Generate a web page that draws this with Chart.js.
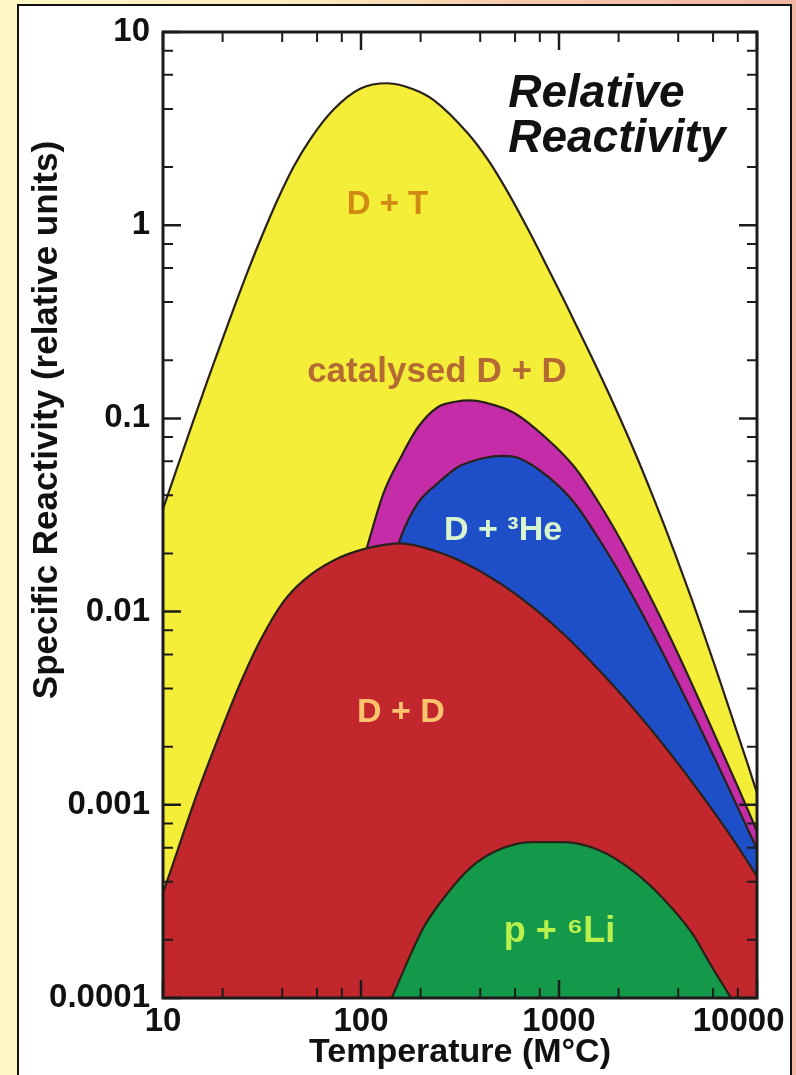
<!DOCTYPE html>
<html>
<head>
<meta charset="utf-8">
<script src="https://cdn.jsdelivr.net/npm/chart.js@4.4.0/dist/chart.umd.min.js"></script>
<style>
  html, body { margin: 0; padding: 0; }
  body {
    width: 796px; height: 1075px; overflow: hidden; position: relative;
    background: linear-gradient(90deg, #fff8c4 0%, #fdeec2 35%, #f7c9ab 65%, #f2b3a3 100%);
  }
  #panel { position: absolute; left: 17px; top: 4px; width: 771px; height: 1100px; background: #fff; border: 2px solid #111; }
  #wrap { position: absolute; left: 0; top: 0; width: 796px; height: 1075px; }
</style>
</head>
<body>
<div id="panel"></div>
<div id="wrap"><canvas id="chart"></canvas></div>
<script>
// tick values (log axes)
const xTicks = [10, 100, 1000, 10000];
const yTicks = [0.0001, 0.001, 0.01, 0.1, 1, 10];
const minorSteps = [2, 4, 6, 8];

// D + T
const dtTemp = [10, 12.2, 14.2, 16.7, 19.5, 22.6, 26.7, 31, 37.8, 45.6, 55.6, 72.7, 99.5, 136, 185, 233, 347, 439, 554, 700, 883, 1064, 1458, 1909, 2412, 3043, 3845, 4690, 5270, 6140, 7480, 9020, 10000];
const dtRate = [0.034, 0.0615, 0.0964, 0.155, 0.24, 0.363, 0.571, 0.838, 1.346, 2.0, 2.8, 3.97, 5.1, 5.43, 5.04, 4.44, 2.98, 2.17, 1.47, 0.946, 0.594, 0.406, 0.209, 0.1156, 0.067, 0.0374, 0.0201, 0.01153, 0.0082, 0.0052, 0.00284, 0.0016, 0.00115];

// catalysed D + D
const cdTemp = [105, 130, 159, 194, 245, 300, 355, 420, 594, 883, 1197, 1585, 2072, 2617, 3305, 4170, 5520, 8110, 10000];
const cdRate = [0.02, 0.041, 0.063, 0.090, 0.1146, 0.122, 0.124, 0.121, 0.1067, 0.0773, 0.056, 0.0367, 0.023, 0.01456, 0.00904, 0.00548, 0.00291, 0.0012, 0.00073];

// D + 3He
const heTemp = [148, 159, 194, 245, 309, 419, 520, 620, 883, 1197, 1585, 2072, 2650, 3300, 4900, 7200, 9440, 10000];
const heRate = [0.019, 0.0243, 0.0365, 0.0463, 0.056, 0.0624, 0.064, 0.0625, 0.0498, 0.0365, 0.0239, 0.0152, 0.00964, 0.00627, 0.00279, 0.00122, 0.00067, 0.00059];

// D + D
const ddTemp = [10, 11.2, 12.6, 14.9, 17.3, 20.1, 24.6, 31, 40.6, 51.3, 72.7, 108, 159, 233, 347, 511, 750, 1064, 1641, 2412, 3580, 5270, 7745, 10000];
const ddRate = [0.00035, 0.00049, 0.0007, 0.00115, 0.00173, 0.00257, 0.00427, 0.00708, 0.01125, 0.01452, 0.0184, 0.0213, 0.02254, 0.0207, 0.0175, 0.01387, 0.0104, 0.00759, 0.00482, 0.0031, 0.00189, 0.00112, 0.00064, 0.000426];

// p + 6Li
const liTemp = [143, 173, 208, 275, 360, 493, 724, 1064, 1585, 2328, 3420, 4690, 5920, 7400];
const liRate = [0.0001, 0.000157, 0.000234, 0.000351, 0.000476, 0.000583, 0.000641, 0.000641, 0.000583, 0.00046, 0.000321, 0.000217, 0.000145, 0.0001];

const FONT = '"Liberation Sans", Arial, Helvetica, sans-serif';

function series(label, temps, rates, color){
  return {
    label,
    data: temps.map((t, i) => ({ x: t, y: rates[i] })),
    backgroundColor: color,
    borderColor: '#28221a',
    borderWidth: 2.2,
    fill: 'start',
    pointRadius: 0,
    cubicInterpolationMode: 'monotone'
  };
}

// labels inside the areas, placed in data coordinates
const areaLabels = [
  { text: 'D + T',            x: 136,  y: 1.27,    color: '#d08a14', size: 33 },
  { text: 'catalysed D + D',  x: 242,  y: 0.174,   color: '#b56a34', size: 35 },
  { text: 'D + \u00b3He',     x: 522,  y: 0.0264,  color: '#d8f5d0', size: 34 },
  { text: 'D + D',            x: 159,  y: 0.003,   color: '#ffc36e', size: 34 },
  { text: 'p + \u2076Li',     x: 1005, y: 0.00022, color: '#baf04c', size: 36 }
];

const decor = {
  id: 'decor',
  afterDatasetsDraw(chart){
    const { ctx, chartArea: a, scales: { x, y } } = chart;
    ctx.save();
    ctx.strokeStyle = '#1c1c1c';
    ctx.lineCap = 'butt';

    // inward ticks on all four sides
    const xs = [], ys = [];
    for (let i = 0; i < xTicks.length; i++) {
      xs.push([xTicks[i], true]);
      if (i < xTicks.length - 1) minorSteps.forEach(m => xs.push([xTicks[i] * m, false]));
    }
    for (let i = 0; i < yTicks.length; i++) {
      ys.push([yTicks[i], true]);
      if (i < yTicks.length - 1) minorSteps.forEach(m => ys.push([yTicks[i] * m, false]));
    }
    xs.forEach(([v, major]) => {
      const px = x.getPixelForValue(v), len = major ? 18 : 10;
      ctx.lineWidth = major ? 2.5 : 2;
      ctx.beginPath();
      ctx.moveTo(px, a.top); ctx.lineTo(px, a.top + len);
      ctx.moveTo(px, a.bottom); ctx.lineTo(px, a.bottom - len);
      ctx.stroke();
    });
    ys.forEach(([v, major]) => {
      const py = y.getPixelForValue(v), len = major ? 18 : 10;
      ctx.lineWidth = major ? 2.5 : 2;
      ctx.beginPath();
      ctx.moveTo(a.left, py); ctx.lineTo(a.left + len, py);
      ctx.moveTo(a.right, py); ctx.lineTo(a.right - len, py);
      ctx.stroke();
    });

    // frame
    ctx.lineWidth = 3;
    ctx.strokeRect(a.left, a.top, a.right - a.left, a.bottom - a.top);

    // area labels
    ctx.textAlign = 'center';
    ctx.textBaseline = 'middle';
    areaLabels.forEach(l => {
      ctx.font = 'bold ' + l.size + 'px ' + FONT;
      ctx.fillStyle = l.color;
      ctx.fillText(l.text, x.getPixelForValue(l.x), y.getPixelForValue(l.y));
    });

    // heading
    ctx.fillStyle = '#111';
    ctx.textAlign = 'left';
    ctx.textBaseline = 'alphabetic';
    ctx.font = 'italic bold 46px ' + FONT;
    const hx = x.getPixelForValue(554);
    ctx.fillText('Relative', hx, y.getPixelForValue(4.09));
    ctx.fillText('Reactivity', hx, y.getPixelForValue(2.39));

    // y axis title
    ctx.font = 'bold 35px ' + FONT;
    ctx.textAlign = 'center';
    ctx.textBaseline = 'middle';
    ctx.translate(47, 420);
    ctx.rotate(-Math.PI / 2);
    ctx.fillText('Specific Reactivity (relative units)', 0, 0);
    ctx.restore();
  }
};

new Chart(document.getElementById('chart'), {
  type: 'line',
  data: {
    datasets: [
      series('p + \u2076Li', liTemp, liRate, '#14994a'),
      series('D + D', ddTemp, ddRate, '#c1272c'),
      series('D + \u00b3He', heTemp, heRate, '#1f4fc8'),
      series('catalysed D + D', cdTemp, cdRate, '#c42ca8'),
      series('D + T', dtTemp, dtRate, '#f5ee38')
    ]
  },
  options: {
    responsive: true,
    maintainAspectRatio: false,
    animation: false,
    layout: { padding: { left: 18, top: 32, right: 39, bottom: 0 } },
    plugins: { legend: { display: false }, tooltip: { enabled: false } },
    scales: {
      x: {
        type: 'logarithmic', min: 10, max: 10000,
        grid: { display: false, drawTicks: false },
        border: { display: false },
        afterBuildTicks: s => { s.ticks = xTicks.map(v => ({ value: v })); },
        afterFit: s => { s.height = 77; s.paddingLeft = 0; s.paddingRight = 0; },
        ticks: {
          autoSkip: false, maxRotation: 0, padding: 4, color: '#111',
          font: { family: FONT, size: 33, weight: 'bold' },
          callback: v => v === 10000 ? '10000\u2007\u2007' : String(v)
        },
        title: {
          display: true, text: 'Temperature (M\u00b0C)', color: '#111',
          font: { family: FONT, size: 34, weight: 'bold' },
          padding: { top: 0, bottom: 2 }
        }
      },
      y: {
        type: 'logarithmic', min: 0.0001, max: 10,
        grid: { display: false, drawTicks: false },
        border: { display: false },
        afterBuildTicks: s => { s.ticks = yTicks.map(v => ({ value: v })); },
        afterFit: s => { s.width = 145; s.paddingTop = 0; s.paddingBottom = 0; },
        ticks: {
          autoSkip: false, padding: 13, color: '#111',
          font: { family: FONT, size: 33, weight: 'bold' },
          callback: v => String(v)
        }
      }
    }
  },
  plugins: [decor]
});
</script>
</body>
</html>
